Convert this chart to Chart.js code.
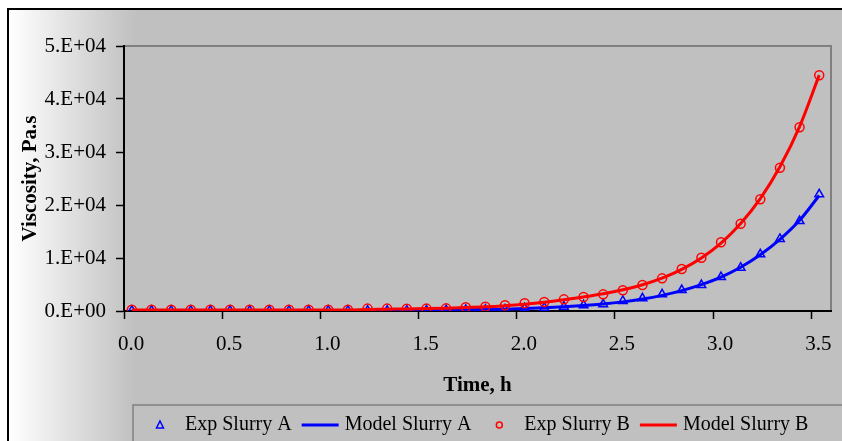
<!DOCTYPE html>
<html>
<head>
<meta charset="utf-8">
<script src="https://cdn.jsdelivr.net/npm/chart.js@4.4.1/dist/chart.umd.min.js"></script>
<style>
  html, body { margin: 0; padding: 0; background: #fff; }
  #wrap { width: 842px; height: 441px; }
</style>
</head>
<body>
<div id="wrap"><canvas id="viscChart" width="842" height="441"></canvas></div>
<script>
// time points (h)
const times = [0.04, 0.14, 0.24, 0.34, 0.44, 0.54, 0.64, 0.74, 0.84, 0.94,
               1.04, 1.14, 1.24, 1.34, 1.44, 1.54, 1.64, 1.74, 1.84, 1.94,
               2.04, 2.14, 2.24, 2.34, 2.44, 2.54, 2.64, 2.74, 2.84, 2.94,
               3.04, 3.14, 3.24, 3.34, 3.44, 3.54];

// measured viscosity, Pa.s
const expSlurryA = [50, 50, 50, 50, 50, 50, 50, 50, 50, 50,
                    50, 50, 60, 60, 70, 100, 150, 200, 250, 300,
                    500, 620, 810, 1070, 1260, 1890, 2400, 3150, 3960, 4900,
                    6415, 8170, 10700, 13600, 16980, 22020];
const expSlurryB = [220, 220, 220, 220, 220, 220, 220, 220, 220, 220,
                    220, 250, 450, 450, 420, 450, 500, 700, 800, 1080,
                    1450, 1700, 2200, 2640, 3140, 3900, 4900, 6160, 7920, 10060,
                    12960, 16470, 21080, 27040, 34660, 44470];

// model viscosity, Pa.s
const modelSlurryA = [60, 60, 60, 60, 60, 60, 60, 60, 60, 60,
                      60, 60, 60, 80, 100, 130, 170, 220, 280, 350,
                      460, 600, 790, 1020, 1320, 1720, 2250, 2950, 3850, 4980,
                      6400, 8250, 10600, 13500, 17100, 21800];
const modelSlurryB = [200, 200, 200, 200, 200, 200, 200, 200, 200, 200,
                      200, 200, 300, 350, 400, 460, 540, 640, 780, 1000,
                      1280, 1650, 2120, 2650, 3250, 4000, 4950, 6200, 7850, 10000,
                      12800, 16500, 21200, 27200, 34800, 44500];

const xTicks = [0, 0.5, 1.0, 1.5, 2.0, 2.5, 3.0, 3.5];
const yTicks = [0, 10000, 20000, 30000, 40000, 50000];

const serif = "'Times New Roman', 'Liberation Serif', serif";

function pts(ys) {
    return times.map((t, i) => ({ x: t, y: ys[i] }));
}

// background, frame and plot border
const framePlugin = {
    id: 'frame',
    beforeDraw(chart) {
        const ctx = chart.ctx;
        const a = chart.chartArea;
        ctx.save();
        ctx.fillStyle = '#ffffff';
        ctx.fillRect(0, 0, chart.width, chart.height);
        const g = ctx.createLinearGradient(9, 0, 135, 0);
        g.addColorStop(0, '#ffffff');
        g.addColorStop(1, '#c0c0c0');
        ctx.fillStyle = g;
        ctx.fillRect(9, 10, chart.width, chart.height);
        ctx.strokeStyle = '#000';
        ctx.lineWidth = 2;
        ctx.strokeRect(8, 9, chart.width + 20, chart.height + 20);
        ctx.fillStyle = '#c0c0c0';
        ctx.fillRect(a.left, a.top, a.right - a.left, a.bottom - a.top);
        ctx.strokeStyle = '#808080';
        ctx.lineWidth = 2;
        ctx.beginPath();
        ctx.moveTo(a.left, a.top);
        ctx.lineTo(a.right, a.top);
        ctx.lineTo(a.right, a.bottom);
        ctx.stroke();
        ctx.restore();
    },
    afterDraw(chart) {
        // legend box
        const ctx = chart.ctx;
        ctx.save();
        ctx.fillStyle = '#c0c0c0';
        ctx.fillRect(133, 405, chart.width, 60);
        ctx.strokeStyle = '#808080';
        ctx.lineWidth = 1.5;
        ctx.strokeRect(133, 405, chart.width, 60);
        ctx.font = '20px ' + serif;
        ctx.textBaseline = 'middle';
        const y = 425;
        let x = 142;
        chart.data.datasets.forEach(ds => {
            const cx = x + 18;
            ctx.strokeStyle = ds.borderColor;
            if (ds.showLine === false) {
                ctx.lineWidth = 1.5;
                ctx.beginPath();
                if (ds.pointStyle === 'triangle') {
                    ctx.moveTo(cx, y - 4);
                    ctx.lineTo(cx + 3.5, y + 3);
                    ctx.lineTo(cx - 3.5, y + 3);
                    ctx.closePath();
                } else {
                    ctx.arc(cx, y, 3, 0, Math.PI * 2);
                }
                ctx.stroke();
            } else {
                ctx.lineWidth = 3;
                ctx.beginPath();
                ctx.moveTo(x, y);
                ctx.lineTo(x + 37, y);
                ctx.stroke();
            }
            x += 43;
            ctx.fillStyle = '#000';
            ctx.fillText(ds.label, x, y);
            x += ctx.measureText(ds.label).width + 10;
        });
        ctx.restore();
    }
};

const ctx = document.getElementById('viscChart').getContext('2d');
new Chart(ctx, {
    type: 'scatter',
    data: {
        datasets: [
            {
                label: 'Exp Slurry A',
                data: pts(expSlurryA),
                showLine: false,
                pointStyle: 'triangle',
                pointRadius: 5,
                borderColor: '#0000ff',
                backgroundColor: 'rgba(0,0,0,0)',
                pointBorderWidth: 1.5,
                order: 2
            },
            {
                label: 'Model Slurry A',
                data: pts(modelSlurryA),
                showLine: true,
                pointRadius: 0,
                borderColor: '#0000ff',
                borderWidth: 3,
                cubicInterpolationMode: 'monotone',
                order: 3
            },
            {
                label: 'Exp Slurry B',
                data: pts(expSlurryB),
                showLine: false,
                pointStyle: 'circle',
                pointRadius: 4.5,
                borderColor: '#ff0000',
                backgroundColor: 'rgba(0,0,0,0)',
                pointBorderWidth: 1.5,
                order: 0
            },
            {
                label: 'Model Slurry B',
                data: pts(modelSlurryB),
                showLine: true,
                pointRadius: 0,
                borderColor: '#ff0000',
                borderWidth: 3,
                cubicInterpolationMode: 'monotone',
                order: 1
            }
        ]
    },
    options: {
        responsive: false,
        animation: false,
        layout: { padding: { left: 0, top: 46, right: 11, bottom: 41 } },
        plugins: {
            legend: { display: false },
            tooltip: { enabled: false }
        },
        scales: {
            x: {
                type: 'linear',
                min: 0,
                max: 3.6,
                afterBuildTicks: s => { s.ticks = xTicks.map(v => ({ value: v })); },
                afterFit: s => { s.height = 89; },
                border: { color: '#000', width: 2 },
                grid: { drawOnChartArea: false, drawTicks: true, tickLength: 8, tickColor: '#000', tickWidth: 1.5 },
                ticks: {
                    color: '#000',
                    font: { family: serif, size: 21 },
                    padding: 13,
                    labelOffset: 7,
                    maxRotation: 0,
                    callback: v => v.toFixed(1)
                },
                title: {
                    display: true,
                    text: 'Time, h',
                    color: '#000',
                    font: { family: serif, size: 21, weight: 'bold' },
                    padding: { top: 0, bottom: 2 }
                }
            },
            y: {
                type: 'linear',
                min: 0,
                max: 50000,
                afterBuildTicks: s => { s.ticks = yTicks.map(v => ({ value: v })); },
                afterFit: s => { s.width = 124; },
                border: { color: '#000', width: 2 },
                grid: { drawOnChartArea: false, drawTicks: true, tickLength: 8, tickColor: '#000', tickWidth: 1.5 },
                ticks: {
                    color: '#000',
                    font: { family: serif, size: 21 },
                    padding: 10,
                    callback: v => v === 0 ? '0.E+00' : (v / 10000) + '.E+04'
                },
                title: {
                    display: true,
                    text: 'Viscosity, Pa.s',
                    color: '#000',
                    font: { family: serif, size: 21, weight: 'bold' },
                    padding: { top: 18, bottom: 0 }
                }
            }
        }
    },
    plugins: [framePlugin]
});
</script>
</body>
</html>
